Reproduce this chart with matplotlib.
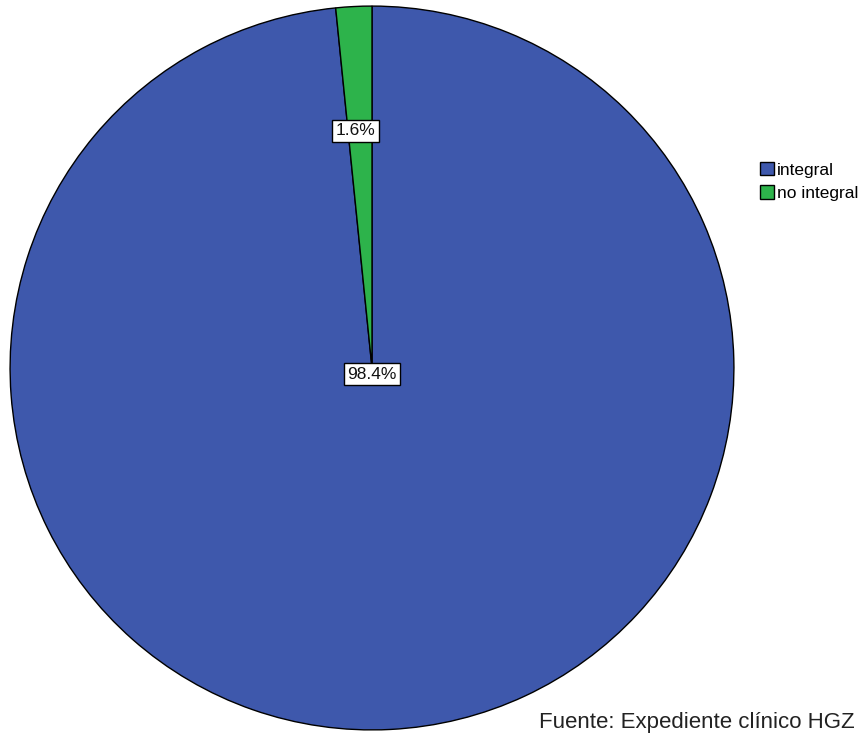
import matplotlib.pyplot as plt
import numpy as np

plt.rcParams['font.family'] = ['Liberation Sans', 'DejaVu Sans']

categorias = ['integral', 'no integral']
porcentajes = [98.4, 1.6]
colores = ['#3E58AC', '#2DB34B']
fuente = 'Fuente: Expediente clínico HGZ'

fig = plt.figure(figsize=(8.61, 7.35), dpi=100)
ax = fig.add_axes([9 / 861, 4 / 735, 726 / 861, 726 / 735])

wedges, _ = ax.pie(porcentajes, colors=colores, startangle=90, counterclock=False,
                   radius=1.0, wedgeprops=dict(edgecolor='black', linewidth=1.0))
ax.set_xlim(-1.003, 1.003)
ax.set_ylim(-1.003, 1.003)
ax.set_aspect('equal')
ax.axis('off')

# etiquetas de porcentaje: la grande cerca del centro, la pequeña dentro de su sector
caja = dict(boxstyle='square,pad=0.2', facecolor='white', edgecolor='black', linewidth=1.0)
for w, p in zip(wedges, porcentajes):
    if p > 50:
        x, y = 0.0, -0.017
    else:
        ang = np.deg2rad(94.0)
        x, y = 0.657 * np.cos(ang), 0.657 * np.sin(ang)
    ax.text(x, y, f'{p:.1f}%', ha='center', va='center', fontsize=12.5,
            color='#111111', bbox=caja)

leg = fig.legend(wedges, categorias, loc='upper left', bbox_to_anchor=(760 / 861, 1 - 162 / 735),
                 frameon=False, fontsize=12.5, handlelength=0.8, handleheight=0.8,
                 handletextpad=0.2, labelspacing=0.45, borderaxespad=0, borderpad=0)

fig.text(855 / 861, 1 - 728 / 735, fuente, ha='right', va='baseline', fontsize=16, color='#222222')

fig.savefig('out.png', dpi=100, facecolor='white')
